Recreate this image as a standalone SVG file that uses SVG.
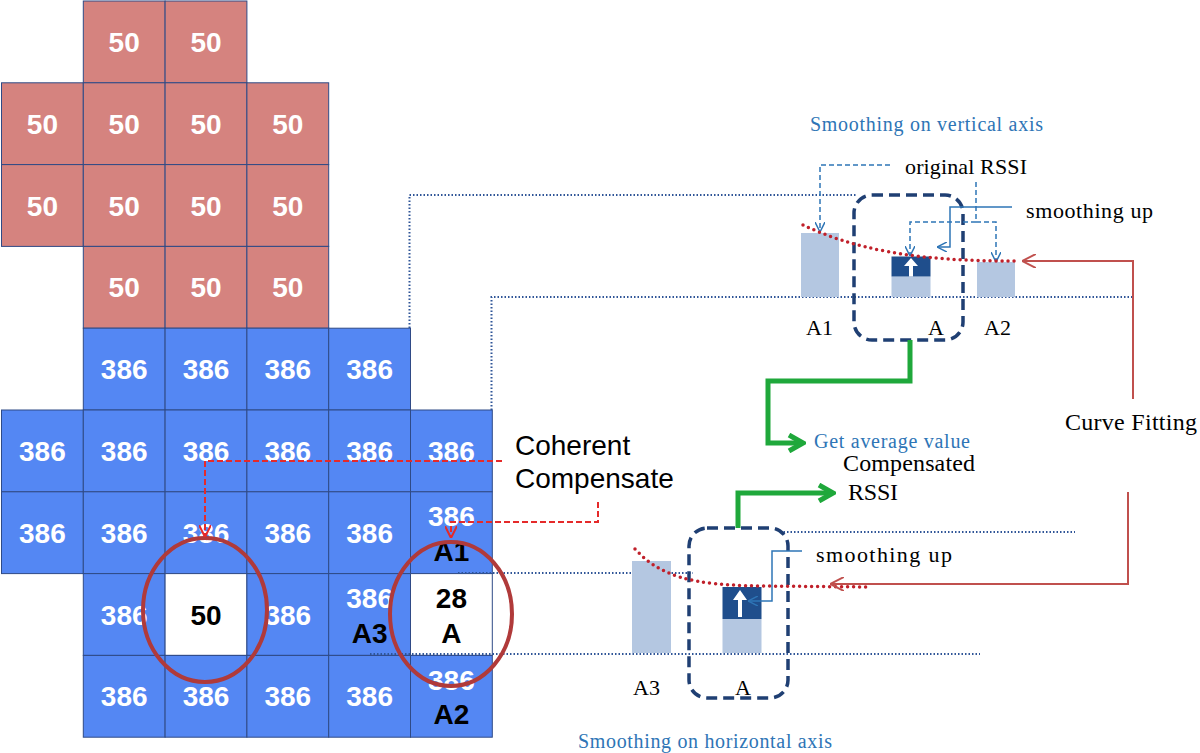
<svg xmlns="http://www.w3.org/2000/svg" width="1200" height="753" viewBox="0 0 1200 753">
<style>
.pk{fill:#D5837F;stroke:#2F4A86;stroke-width:1}
.bl{fill:#5487F3;stroke:#2F4A86;stroke-width:1}
.wh{fill:#FFFFFF;stroke:#2F4A86;stroke-width:1}
.ct{font-family:"Liberation Sans",Arial,sans-serif;font-weight:bold;font-size:28px;fill:#FFFFFF;text-anchor:middle}
.ck{font-family:"Liberation Sans",Arial,sans-serif;font-weight:bold;font-size:28px;fill:#000000;text-anchor:middle}
.sf{font-family:"Liberation Serif","Times New Roman",serif;fill:#000000}
.sb{font-family:"Liberation Serif","Times New Roman",serif;fill:#2E75B6}
.dot{fill:none;stroke:#2F5597;stroke-width:2;stroke-dasharray:1.5 2}
.rdash{fill:none;stroke:#E52A2A;stroke-width:2;stroke-dasharray:6 3}
.bdash{fill:none;stroke:#2E75B6;stroke-width:1.5;stroke-dasharray:5 3}
.bsol{fill:none;stroke:#2E75B6;stroke-width:1.5}
.rsol{fill:none;stroke:#C0504D;stroke-width:2}
.rdot{fill:none;stroke:#C0202A;stroke-width:3.5;stroke-dasharray:0 6;stroke-linecap:round}
.grn{fill:none;stroke:#1FA83B;stroke-width:5}
.box{fill:none;stroke:#1F3F73;stroke-width:3.5;stroke-dasharray:11 6}
.bar{fill:#B4C7E1}
.dk{fill:#1F4E8C}
.ell{fill:none;stroke:#B03A3A;stroke-width:4}
.cc{font-family:"Liberation Sans",Arial,sans-serif;font-size:28px;fill:#000000}
</style>
<defs>
<marker id="ab" viewBox="0 0 10 10" refX="10" refY="5" markerWidth="10" markerHeight="10" markerUnits="userSpaceOnUse" orient="auto"><path d="M0,0 L10,5 L0,10" fill="none" stroke="#2E75B6" stroke-width="1.5"/></marker>
<marker id="ar" viewBox="0 0 12 12" refX="12" refY="6" markerWidth="12" markerHeight="12" markerUnits="userSpaceOnUse" orient="auto"><path d="M0,0 L12,6 L0,12" fill="none" stroke="#E52A2A" stroke-width="2"/></marker>
<marker id="ar2" viewBox="0 0 14 14" refX="14" refY="7" markerWidth="14" markerHeight="14" markerUnits="userSpaceOnUse" orient="auto"><path d="M0,0 L14,7 L0,14" fill="none" stroke="#C0504D" stroke-width="2"/></marker>
<marker id="ag" viewBox="0 0 20 20" refX="17" refY="10" markerWidth="20" markerHeight="20" markerUnits="userSpaceOnUse" orient="auto"><path d="M3,2 L17,10 L3,18" fill="none" stroke="#1FA83B" stroke-width="5"/></marker>
</defs>
<rect width="1200" height="753" fill="#FFFFFF"/>

<g id="grid">
<g id="c-r0c1"><rect class="pk" x="83.3" y="1" width="81.8" height="81.8"/><text class="ct" x="124.2" y="52">50</text></g>
<g id="c-r0c2"><rect class="pk" x="165.1" y="1" width="81.8" height="81.8"/><text class="ct" x="206" y="52">50</text></g>
<g id="c-r1c0"><rect class="pk" x="1.5" y="82.8" width="81.8" height="81.8"/><text class="ct" x="42.4" y="134">50</text></g>
<g id="c-r1c1"><rect class="pk" x="83.3" y="82.8" width="81.8" height="81.8"/><text class="ct" x="124.2" y="134">50</text></g>
<g id="c-r1c2"><rect class="pk" x="165.1" y="82.8" width="81.8" height="81.8"/><text class="ct" x="206" y="134">50</text></g>
<g id="c-r1c3"><rect class="pk" x="246.9" y="82.8" width="81.8" height="81.8"/><text class="ct" x="287.8" y="134">50</text></g>
<g id="c-r2c0"><rect class="pk" x="1.5" y="164.6" width="81.8" height="81.8"/><text class="ct" x="42.4" y="215.5">50</text></g>
<g id="c-r2c1"><rect class="pk" x="83.3" y="164.6" width="81.8" height="81.8"/><text class="ct" x="124.2" y="215.5">50</text></g>
<g id="c-r2c2"><rect class="pk" x="165.1" y="164.6" width="81.8" height="81.8"/><text class="ct" x="206" y="215.5">50</text></g>
<g id="c-r2c3"><rect class="pk" x="246.9" y="164.6" width="81.8" height="81.8"/><text class="ct" x="287.8" y="215.5">50</text></g>
<g id="c-r3c1"><rect class="pk" x="83.3" y="246.4" width="81.8" height="81.8"/><text class="ct" x="124.2" y="297">50</text></g>
<g id="c-r3c2"><rect class="pk" x="165.1" y="246.4" width="81.8" height="81.8"/><text class="ct" x="206" y="297">50</text></g>
<g id="c-r3c3"><rect class="pk" x="246.9" y="246.4" width="81.8" height="81.8"/><text class="ct" x="287.8" y="297">50</text></g>

<g id="c-r4c1"><rect class="bl" x="83.3" y="328.2" width="81.8" height="81.8"/><text class="ct" x="124.2" y="379">386</text></g>
<g id="c-r4c2"><rect class="bl" x="165.1" y="328.2" width="81.8" height="81.8"/><text class="ct" x="206" y="379">386</text></g>
<g id="c-r4c3"><rect class="bl" x="246.9" y="328.2" width="81.8" height="81.8"/><text class="ct" x="287.8" y="379">386</text></g>
<g id="c-r4c4"><rect class="bl" x="328.7" y="328.2" width="81.8" height="81.8"/><text class="ct" x="369.6" y="379">386</text></g>

<g id="c-r5c0"><rect class="bl" x="1.5" y="410" width="81.8" height="81.8"/><text class="ct" x="42.4" y="461">386</text></g>
<g id="c-r5c1"><rect class="bl" x="83.3" y="410" width="81.8" height="81.8"/><text class="ct" x="124.2" y="461">386</text></g>
<g id="c-r5c2"><rect class="bl" x="165.1" y="410" width="81.8" height="81.8"/><text class="ct" x="206" y="461">386</text></g>
<g id="c-r5c3"><rect class="bl" x="246.9" y="410" width="81.8" height="81.8"/><text class="ct" x="287.8" y="461">386</text></g>
<g id="c-r5c4"><rect class="bl" x="328.7" y="410" width="81.8" height="81.8"/><text class="ct" x="369.6" y="461">386</text></g>
<g id="c-r5c5"><rect class="bl" x="410.5" y="410" width="81.8" height="81.8"/><text class="ct" x="451.4" y="461">386</text></g>

<g id="c-r6c0"><rect class="bl" x="1.5" y="491.8" width="81.8" height="81.8"/><text class="ct" x="42.4" y="543">386</text></g>
<g id="c-r6c1"><rect class="bl" x="83.3" y="491.8" width="81.8" height="81.8"/><text class="ct" x="124.2" y="543">386</text></g>
<g id="c-r6c2"><rect class="bl" x="165.1" y="491.8" width="81.8" height="81.8"/><text class="ct" x="206" y="543">386</text></g>
<g id="c-r6c3"><rect class="bl" x="246.9" y="491.8" width="81.8" height="81.8"/><text class="ct" x="287.8" y="543">386</text></g>
<g id="c-r6c4"><rect class="bl" x="328.7" y="491.8" width="81.8" height="81.8"/><text class="ct" x="369.6" y="543">386</text></g>
<g id="c-r6c5"><rect class="bl" x="410.5" y="491.8" width="81.8" height="81.8"/><text class="ct" x="451.4" y="526">386</text><text class="ck" x="451.4" y="561">A1</text></g>

<g id="c-r7c1"><rect class="bl" x="83.3" y="573.6" width="81.8" height="81.8"/><text class="ct" x="124.2" y="624.5">386</text></g>
<g id="c-r7c2"><rect class="wh" x="165.1" y="573.6" width="81.8" height="81.8"/><text class="ck" x="206" y="624.5">50</text></g>
<g id="c-r7c3"><rect class="bl" x="246.9" y="573.6" width="81.8" height="81.8"/><text class="ct" x="287.8" y="624.5">386</text></g>
<g id="c-r7c4"><rect class="bl" x="328.7" y="573.6" width="81.8" height="81.8"/><text class="ct" x="369.6" y="608">386</text><text class="ck" x="369.6" y="643">A3</text></g>
<g id="c-r7c5"><rect class="wh" x="410.5" y="573.6" width="81.8" height="81.8"/><text class="ck" x="451.4" y="608">28</text><text class="ck" x="451.4" y="643">A</text></g>

<g id="c-r8c1"><rect class="bl" x="83.3" y="655.4" width="81.8" height="81.8"/><text class="ct" x="124.2" y="706">386</text></g>
<g id="c-r8c2"><rect class="bl" x="165.1" y="655.4" width="81.8" height="81.8"/><text class="ct" x="206" y="706">386</text></g>
<g id="c-r8c3"><rect class="bl" x="246.9" y="655.4" width="81.8" height="81.8"/><text class="ct" x="287.8" y="706">386</text></g>
<g id="c-r8c4"><rect class="bl" x="328.7" y="655.4" width="81.8" height="81.8"/><text class="ct" x="369.6" y="706">386</text></g>
<g id="c-r8c5"><rect class="bl" x="410.5" y="655.4" width="81.8" height="81.8"/><text class="ct" x="451.4" y="690">386</text><text class="ck" x="451.4" y="724">A2</text></g>
</g>

<g id="guides">
<path class="dot" d="M409.5,328 V195 H856"/>
<path class="dot" d="M491.5,410 V297 H1133"/>
<path class="dot" d="M780,532 H1075"/>
<path class="dot" d="M458,573 H693"/>
<path class="dot" d="M370,654 H980"/>
</g>

<g id="ellipses">
<ellipse class="ell" cx="205" cy="610" rx="62" ry="72"/>
<ellipse class="ell" cx="451" cy="614" rx="61" ry="72"/>
</g>

<g id="coherent-label">
<text class="cc" x="515" y="455">Coherent</text>
<text class="cc" x="515" y="488">Compensate</text>
</g>

<g id="vertical-panel">
<text class="sb" x="810" y="131" font-size="20" textLength="233">Smoothing on vertical axis</text>
<rect class="bar" x="801" y="233" width="38" height="64"/>
<rect class="bar" x="891.5" y="276.5" width="39" height="20.5"/>
<rect class="dk" x="891.5" y="256.5" width="39" height="20"/>
<path d="M911,258 L904,266 H909 V276.5 H913 V266 H918 Z" fill="#FFFFFF"/>
<rect class="bar" x="977" y="262" width="38" height="35"/>
<rect class="box" x="854" y="195" width="109" height="145" rx="18"/>
<text class="sf" x="905" y="174" font-size="22" textLength="122">original RSSI</text>
<text class="sf" x="1026" y="218" font-size="22" textLength="127">smoothing up</text>
<text class="sf" x="806" y="335" font-size="22">A1</text>
<text class="sf" x="928" y="335" font-size="22">A</text>
<text class="sf" x="984" y="335" font-size="22">A2</text>
</g>

<g id="horizontal-panel">
<rect class="bar" x="632" y="561" width="39" height="92"/>
<rect class="bar" x="722.5" y="619" width="39" height="34"/>
<rect class="dk" x="722.5" y="587" width="39" height="32"/>
<path d="M740,590 L733,600 H738 V617 H742 V600 H747 Z" fill="#FFFFFF"/>
<rect class="box" x="689" y="528" width="99" height="170" rx="18"/>
<text class="sf" x="816" y="562" font-size="22" textLength="136">smoothing up</text>
<text class="sf" x="633" y="695" font-size="22">A3</text>
<text class="sf" x="735" y="695" font-size="22">A</text>
<text class="sb" x="578" y="748" font-size="20" textLength="254">Smoothing on horizontal axis</text>
</g>

<g id="side-labels">
<text class="sb" x="814" y="448" font-size="20" textLength="156">Get average value</text>
<text class="sf" x="843" y="471" font-size="24" textLength="132">Compensated</text>
<text class="sf" x="848" y="500" font-size="24" textLength="50">RSSI</text>
<text class="sf" x="1065" y="430" font-size="24" textLength="132">Curve Fitting</text>
</g>

<g id="connectors">
<path class="rdash" d="M502,461 H205 V537" marker-end="url(#ar)"/>
<path class="rdash" d="M598,502 V522 H451 V538" marker-end="url(#ar)"/>
<path class="bdash" d="M890,165 H820 V232" marker-end="url(#ab)"/>
<path class="bdash" d="M976,182 V222 H910 V256" marker-end="url(#ab)"/>
<path class="bdash" d="M976,222 H996 V262" marker-end="url(#ab)"/>
<path class="bsol" d="M1012,207 H950 V247 H937" marker-end="url(#ab)"/>
<path class="bsol" d="M802,551 H772 V601 H748" marker-end="url(#ab)"/>
<path class="rdot" d="M803,225 C850,247 910,262 1020,261"/>
<path class="rdot" d="M635,549 C660,576 690,585 760,586 L867,587"/>
<path class="rsol" d="M1133,399 V261 H1022" marker-end="url(#ar2)"/>
<path class="rsol" d="M1128,492 V584 H830" marker-end="url(#ar2)"/>
<path class="grn" d="M910,340 V381 H768 V443 H803" marker-end="url(#ag)"/>
<path class="grn" d="M738,528 V493 H833" marker-end="url(#ag)"/>
</g>
</svg>
